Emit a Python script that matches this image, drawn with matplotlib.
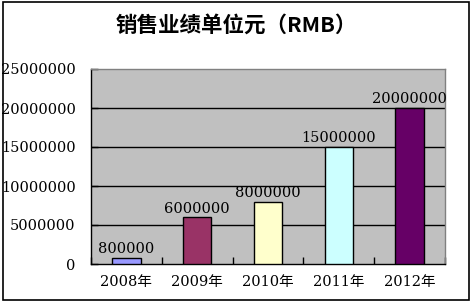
import matplotlib
matplotlib.use('Agg')
import matplotlib.pyplot as plt
from matplotlib.patches import Rectangle

# Data
years = ['2008年', '2009年', '2010年', '2011年', '2012年']
sales = [800000, 6000000, 8000000, 15000000, 20000000]
colors = ['#9999FF', '#993366', '#FFFFCC', '#CCFFFF', '#660066']
yticks = [0, 5000000, 10000000, 15000000, 20000000, 25000000]

W, H = 472, 303
fig = plt.figure(figsize=(W / 100, H / 100), dpi=100)
fig.patch.set_facecolor('white')

# plot area in pixels: left 91, right 445, top 69, bottom 264
ax = fig.add_axes([91 / W, 1 - 264 / H, (445 - 91) / W, (264 - 69) / H])
ax.set_facecolor('#C0C0C0')

x = range(len(years))
ax.bar(x, sales, width=0.4, color=colors, edgecolor='black', linewidth=1, zorder=3)

# data labels
for i, v in enumerate(sales):
    ax.text(i, v + 200000, str(v), ha='center', va='bottom',
            family='DejaVu Serif', fontsize=10.5, zorder=4)

ax.set_xlim(-0.5, len(years) - 0.5)
ax.set_ylim(0, 25000000)
ax.set_yticks(yticks)
ax.set_yticklabels([str(t) for t in yticks], family='DejaVu Serif', fontsize=10.5)
ax.set_xticks(list(x))
ax.set_xticklabels(years, family=['DejaVu Serif', 'Noto Sans CJK SC'], fontsize=10.5)
ax.set_xticks([i + 0.5 for i in range(-1, len(years))], minor=True)

ax.tick_params(axis='x', which='major', length=0, pad=8)
ax.tick_params(axis='x', which='minor', direction='in', length=5, width=1, color='black')
ax.tick_params(axis='y', direction='in', length=5, width=1, pad=11)

# gridlines
for t in yticks[1:-1]:
    ax.axhline(t, color='black', linewidth=1, zorder=2)

ax.spines['left'].set_color('black')
ax.spines['bottom'].set_color('black')
ax.spines['top'].set_color('#808080')
ax.spines['right'].set_color('#808080')
for s in ax.spines.values():
    s.set_linewidth(1)

# title
fig.text(236 / W, 1 - 25 / H, '销售业绩单位元（RMB）', ha='center', va='center',
         family=['Noto Sans CJK SC', 'DejaVu Sans'], fontweight='bold', fontsize=15.5)

# outer border
fig.patches.append(Rectangle((2.5 / W, 1 - 299.5 / H), (469 - 2.5) / W, (299.5 - 2) / H,
                             transform=fig.transFigure, fill=False,
                             edgecolor='black', linewidth=1.2))

fig.savefig('out.png', dpi=100)
